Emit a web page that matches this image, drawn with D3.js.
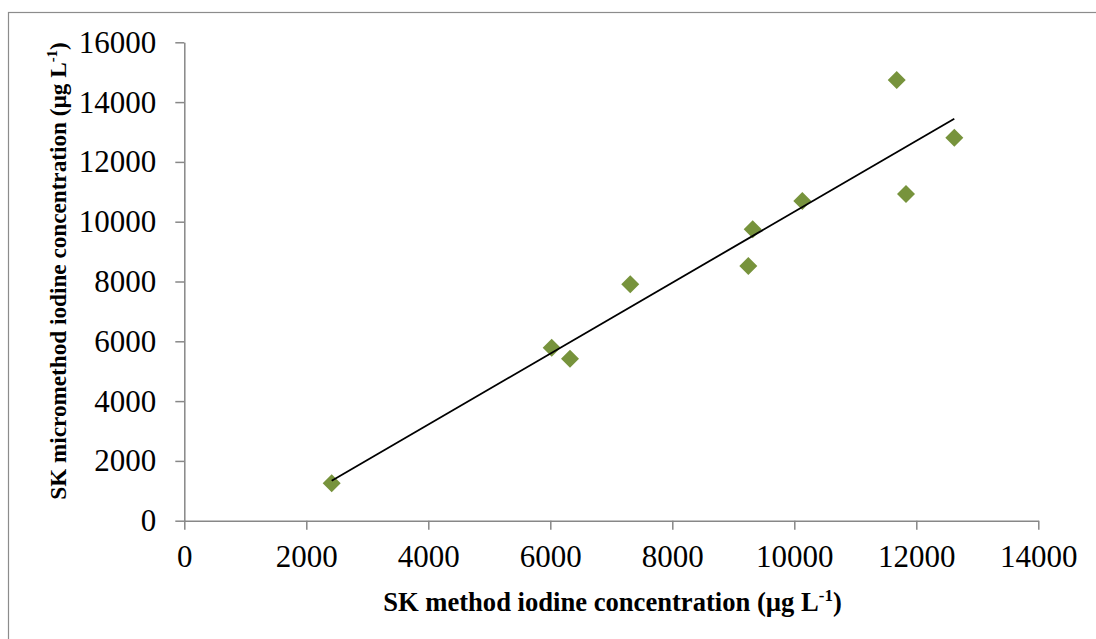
<!DOCTYPE html>
<html>
<head>
<meta charset="utf-8">
<script src="https://cdn.jsdelivr.net/npm/d3@7"></script>
<style>
  html, body { margin: 0; padding: 0; background: #fff; }
  svg { display: block; }
</style>
</head>
<body>
<svg id="chart" width="1096" height="639"></svg>
<script>
// SK method vs. SK micromethod iodine concentrations (µg L-1)
const skMethod      = [2416, 6023, 6323, 7311, 9246, 9318, 10131, 11679, 11831, 12623];
const skMicromethod = [1251, 5786, 5418, 7906, 8518, 9746, 10692, 14739, 10926, 12809];

const xTicks = [0, 2000, 4000, 6000, 8000, 10000, 12000, 14000];
const yTicks = [0, 2000, 4000, 6000, 8000, 10000, 12000, 14000, 16000];

const xTitle = "SK method iodine concentration (µg L";
const yTitle = "SK micromethod iodine concentration (µg L";
const unitSup = "-1";

const svg = d3.select("#chart");
const W = 1096, H = 639;
const plot = { left: 184.3, right: 1038.3, top: 42.3, bottom: 520.7 };
const axisColor = "#878787";
const serif = "'Liberation Serif', 'Times New Roman', serif";

// outer chart frame
svg.append("rect")
  .attr("x", 8.5).attr("y", 12.5)
  .attr("width", W + 20).attr("height", H + 20)
  .attr("fill", "#fff")
  .attr("stroke", "#8c8c8c").attr("stroke-width", 1.2);

const x = d3.scaleLinear().domain([0, 14000]).range([plot.left, plot.right]);
const y = d3.scaleLinear().domain([0, 16000]).range([plot.bottom, plot.top]);

// axes
const gx = svg.append("g")
  .attr("transform", `translate(0,${plot.bottom})`)
  .call(d3.axisBottom(x).tickValues(xTicks).tickSize(9).tickPadding(15)
    .tickFormat(d3.format("d")).tickSizeOuter(0));
const gy = svg.append("g")
  .attr("transform", `translate(${plot.left},0)`)
  .call(d3.axisLeft(y).tickValues(yTicks).tickSize(9).tickPadding(19)
    .tickFormat(d3.format("d")).tickSizeOuter(0));

[gx, gy].forEach(g => {
  g.attr("font-size", null).attr("font-family", null);
  g.select(".domain").attr("stroke", axisColor).attr("stroke-width", 1.5);
  g.selectAll(".tick line").attr("stroke", axisColor).attr("stroke-width", 1.5);
  g.selectAll(".tick text")
    .attr("fill", "#000")
    .style("font-family", serif)
    .style("font-size", "31px");
});

// least-squares trendline over the observed range
const n = skMethod.length;
const mx = d3.mean(skMethod), my = d3.mean(skMicromethod);
let sxy = 0, sxx = 0;
for (let i = 0; i < n; i++) {
  sxy += (skMethod[i] - mx) * (skMicromethod[i] - my);
  sxx += (skMethod[i] - mx) ** 2;
}
const slope = sxy / sxx, intercept = my - slope * mx;
const [x0, x1] = d3.extent(skMethod);

// data points: rotated squares
const pts = skMethod.map((v, i) => ({ x: v, y: skMicromethod[i] }));
const diamond = d3.symbol().type(d3.symbolSquare).size(162);
svg.append("g").selectAll("path")
  .data(pts)
  .join("path")
  .attr("d", diamond)
  .attr("transform", d => `translate(${x(d.x)},${y(d.y)}) rotate(45)`)
  .attr("fill", "#77933C");

svg.append("line")
  .attr("x1", x(x0)).attr("y1", y(slope * x0 + intercept))
  .attr("x2", x(x1)).attr("y2", y(slope * x1 + intercept))
  .attr("stroke", "#000").attr("stroke-width", 1.8);

// axis titles
function title(sel, text, size) {
  sel.style("font-family", serif).style("font-weight", "bold")
    .style("font-size", size + "px").attr("fill", "#000");
  sel.append("tspan").text(text);
  sel.append("tspan").text(unitSup)
    .attr("dy", -size * 0.38).style("font-size", (size * 0.64) + "px");
  sel.append("tspan").text(")").attr("dy", size * 0.38);
}

svg.append("text")
  .attr("x", 612.5).attr("y", 611)
  .attr("text-anchor", "middle")
  .call(title, xTitle, 26.6);

svg.append("text")
  .attr("transform", "translate(66,271) rotate(-90)")
  .attr("text-anchor", "middle")
  .call(title, yTitle, 23.2);
</script>
</body>
</html>
